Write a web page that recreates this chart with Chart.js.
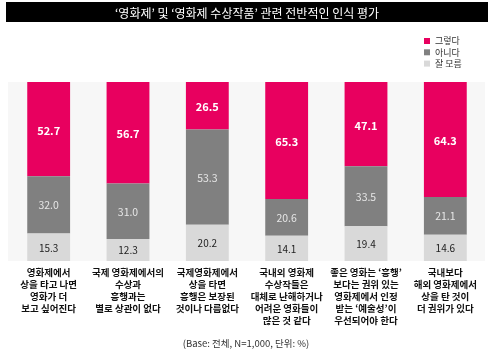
<!DOCTYPE html>
<html><head><meta charset="utf-8">
<script src="https://cdn.jsdelivr.net/npm/chart.js@4/dist/chart.umd.min.js"></script>
<style>html,body{margin:0;padding:0;background:#fff}canvas{display:block}</style>
</head><body>
<canvas id="c" width="494" height="355"></canvas>
<script>
const categories = [
  ['영화제에서','상을 타고 나면','영화가 더','보고 싶어진다'],
  ['국제 영화제에서의','수상과','흥행과는','별로 상관이 없다'],
  ['국제영화제에서','상을 타면','흥행은 보장된','것이나 다름없다'],
  ['국내외 영화제','수상작들은','대체로 난해하거나','어려운 영화들이','많은 것 같다'],
  ['좋은 영화는 ‘흥행’','보다는 권위 있는','영화제에서 인정','받는 ‘예술성’이','우선되어야 한다'],
  ['국내보다','해외 영화제에서','상을 탄 것이','더 권위가 있다']
];
const yesValues = [52.7, 56.7, 26.5, 65.3, 47.1, 64.3];
const noValues  = [32.0, 31.0, 53.3, 20.6, 33.5, 21.1];
const dkValues  = [15.3, 12.3, 20.2, 14.1, 19.4, 14.6];
const seriesNames = ['그렇다', '아니다', '잘 모름'];
const titleText = '‘영화제’ 및 ‘영화제 수상작품’ 관련 전반적인 인식 평가';
const noteText = '(Base: 전체, N=1,000, 단위: %)';

const FONT = '"Noto Sans CJK KR", "Noto Sans", sans-serif';
const PINK = '#E8005F', GRAY = '#808080', LIGHT = '#D9D9D9';

const decor = {
  id: 'decor',
  beforeDraw(chart) {
    const ctx = chart.ctx, a = chart.chartArea;
    ctx.save();
    ctx.fillStyle = '#fff';
    ctx.fillRect(0, 0, chart.width, chart.height);
    // title bar
    ctx.fillStyle = '#000';
    ctx.fillRect(6, 2, 482, 20);
    ctx.fillStyle = '#fff';
    ctx.font = '12px ' + FONT;
    ctx.textAlign = 'center';
    ctx.textBaseline = 'middle';
    ctx.fillText(titleText, 247, 13);
    // plot background
    ctx.fillStyle = '#F7F7F7';
    ctx.fillRect(a.left - 1, a.top, a.right - a.left + 1, a.bottom - a.top);
    // legend
    const ds = chart.data.datasets;
    const order = [2, 1, 0];
    ctx.font = '9px ' + FONT;
    ctx.textAlign = 'left';
    order.forEach((di, i) => {
      const y = 41 + i * 11.3;
      ctx.fillStyle = ds[di].backgroundColor;
      ctx.fillRect(424, y - 3, 6, 6);
      ctx.fillStyle = '#333';
      ctx.fillText(ds[di].label, 435, y);
    });
    // footnote
    ctx.textAlign = 'center';
    ctx.font = '9.5px ' + FONT;
    ctx.fillStyle = '#333';
    ctx.fillText(noteText, 246, 343);
    ctx.restore();
  },
  afterDatasetsDraw(chart) {
    const ctx = chart.ctx;
    const styles = [
      {font: '10px ' + FONT, color: '#222'},
      {font: '10.5px ' + FONT, color: '#E6E6E6'},
      {font: 'bold 11px ' + FONT, color: '#fff'}
    ];
    ctx.save();
    ctx.textAlign = 'center';
    ctx.textBaseline = 'middle';
    chart.data.datasets.forEach((ds, di) => {
      const meta = chart.getDatasetMeta(di);
      meta.data.forEach((el, i) => {
        const v = ds.data[i];
        ctx.font = styles[di].font;
        ctx.fillStyle = styles[di].color;
        ctx.fillText(v.toFixed(1), el.x, (el.y + el.base) / 2 + (di === 2 ? 1.5 : 0.5));
      });
    });
    ctx.restore();
  }
};

new Chart(document.getElementById('c'), {
  type: 'bar',
  data: {
    labels: categories,
    datasets: [
      {label: seriesNames[2], data: dkValues, backgroundColor: LIGHT},
      {label: seriesNames[1], data: noValues, backgroundColor: GRAY},
      {label: seriesNames[0], data: yesValues, backgroundColor: PINK}
    ]
  },
  options: {
    responsive: false,
    animation: false,
    layout: {padding: {top: 82, left: 9, right: 9, bottom: 24}},
    datasets: {bar: {categoryPercentage: 1, barPercentage: 0.54, borderWidth: 0}},
    plugins: {legend: {display: false}, tooltip: {enabled: false}, title: {display: false}},
    scales: {
      x: {
        stacked: true,
        grid: {display: false, drawTicks: false, tickLength: 0},
        border: {display: false},
        ticks: {
          autoSkip: false, maxRotation: 0, minRotation: 0, padding: 5,
          color: '#111',
          font: {family: FONT, size: 9.5, weight: 'bold', lineHeight: '12px'}
        }
      },
      y: {stacked: true, display: false, min: 0, max: 100}
    }
  },
  plugins: [decor]
});
</script>
</body></html>
